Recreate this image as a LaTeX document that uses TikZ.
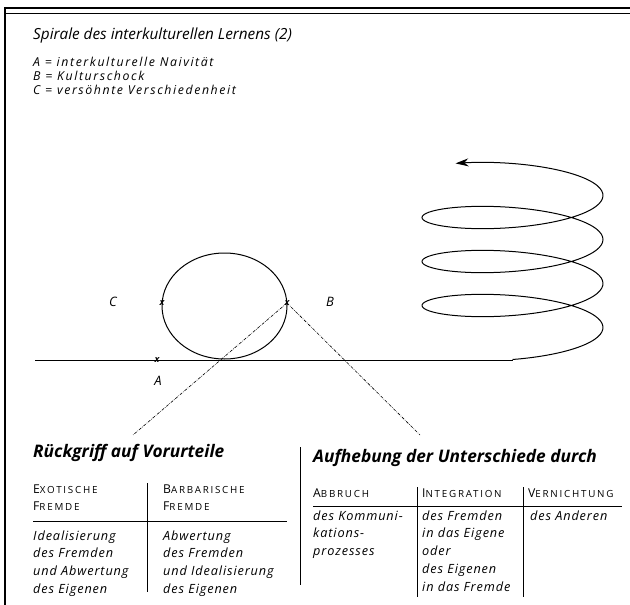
\documentclass[tikz,border=0pt]{standalone}
\usepackage{fontspec}
\setmainfont{Open Sans}
\usetikzlibrary{arrows.meta}
\newfontfamily\wideit[LetterSpace=7]{Open Sans}
\newfontfamily\widerit[LetterSpace=13]{Open Sans}
\newfontfamily\widecaps[LetterSpace=18]{Open Sans}
\newcommand{\capsm}[2]{#1{\fontsize{9.8}{9}\selectfont #2}}
\tikzset{
  lbl/.style     = {anchor=base west, inner sep=0pt, align=left},
  body/.style    = {lbl, font=\wideit\itshape\fontsize{12.7}{17.8}\selectfont},
  colhead/.style = {lbl, font=\widecaps\fontsize{12.2}{17}\selectfont},
  sechead/.style = {lbl, font=\bfseries\itshape\fontsize{17.3}{17}\selectfont},
  letter/.style  = {inner sep=0pt, font=\itshape\fontsize{13}{14}\selectfont},
  xm/.style      = {inner sep=0pt, font=\itshape\bfseries\fontsize{9}{10}\selectfont},
  rule/.style    = {line width=0.8pt},
  curve/.style   = {line width=1pt},
  guide/.style   = {line width=0.6pt, dash pattern=on 3pt off 1.2pt on 0.6pt off 1.2pt},
}
\begin{document}
\begin{tikzpicture}[x=1pt, y=-1pt]
  \useasboundingbox (0,0) rectangle (630,605);
  % frame
  \draw[line width=2pt] (5,8) -- (630,8);
  \draw[line width=0.7pt] (5,13) -- (630,13);
  \draw[line width=1.6pt] (5,7) -- (5,605);

  % title and legend (last baseline given)
  \node[lbl, font=\itshape\fontsize{15.3}{15}\selectfont] (title) at (33,39) {Spirale des interkulturellen Lernens (2)};
  \node[lbl, font=\widerit\itshape\fontsize{12.3}{14}\selectfont] (legend) at (33,94) {A = interkulturelle Naivität\\
    B = Kulturschock\\ C = versöhnte Verschiedenheit};

  % baseline, loop and helix
  \coordinate (start) at (35,360);
  \coordinate (hstart) at (512.5,360);
  \draw[curve] (start) -- (hstart);
  \draw[curve] (224.5,306) ellipse [x radius=62.5, y radius=53];
  \draw[curve, -{Stealth[length=13pt, width=8pt]}] plot[smooth, samples=240, domain=-90:1209]
    ({512.5+90.5*cos(\x)}, {327.5-0.12222*\x-21*sin(\x)});

  % marks
  \node[xm] (mA) at (157,360) {x};
  \node[xm] (mB) at (287,303) {x};
  \node[xm] (mC) at (162,303) {x};
  \node[letter] (lA) at (158,381) {A};
  \node[letter] (lB) at (330,302) {B};
  \node[letter] (lC) at (113,302) {C};

  % guides to the two sections
  \coordinate (gL) at (133,435);
  \coordinate (gR) at (420,435);
  \draw[guide] (mB.center) -- (gL);
  \draw[guide] (mB.center) -- (gR);

  % left section
  \node[sechead] (hL) at (33,457) {Rückgriff auf Vorurteile};
  \node[colhead] (exo) at (33,510) {\capsm{E}{XOTISCHE}\\ \capsm{F}{REMDE}};
  \node[colhead] (bar) at (163,510) {\capsm{B}{ARBARISCHE}\\ \capsm{F}{REMDE}};
  \node[body] (exoT) at (33,593.4) {Idealisierung\\ des Fremden\\ und Abwertung\\ des Eigenen};
  \node[body] (barT) at (163,593.4) {Abwertung\\ des Fremden\\ und Idealisierung\\ des Eigenen};
  \draw[rule] (33,521) -- (287,521);
  \draw[rule] (147,483) -- (147,592);

  % divider
  \draw[rule] (300,447) -- (300,585);

  % right section
  \node[sechead] (hR) at (313,462) {Aufhebung der Unterschiede durch};
  \node[colhead] (abb) at (313,497) {\capsm{A}{BBRUCH}};
  \node[colhead] (int) at (422,497) {\capsm{I}{NTEGRATION}};
  \node[colhead] (ver) at (528,497) {\capsm{V}{ERNICHTUNG}};
  \node[body] (abbT) at (313,555.6) {des Kommuni-\\ kations-\\ prozesses};
  \node[body] (intT) at (422,591.2) {des Fremden\\ in das Eigene\\ oder\\ des Eigenen\\ in das Fremde};
  \node[body] (verT) at (530,520) {des Anderen};
  \draw[rule] (313,506) -- (622,506);
  \draw[rule] (417,487) -- (417,597);
  \draw[rule] (523,487) -- (523,597);
\end{tikzpicture}
\end{document}
